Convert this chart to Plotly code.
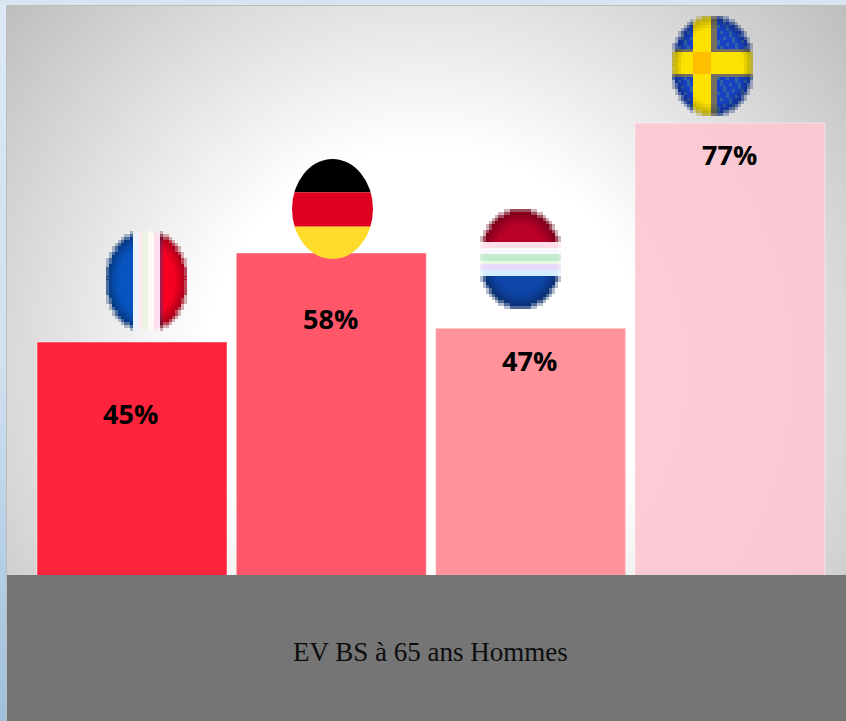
import base64
import plotly.graph_objects as go

# ---------- data ----------
categories = ["France", "Allemagne", "Pays-Bas", "Suède"]
values = [45, 58, 47, 77]
bar_colors = ["rgba(255,32,58,0.98)", "rgba(255,84,102,0.98)",
              "rgba(255,144,152,0.98)", "rgba(252,198,210,0.9)"]
caption = "EV BS à 65 ans Hommes"
label_drops = [71, 65, 32, 31]

W, H = 846, 721
Y_PER_PX = 1 / 6.844
BASE_PX = 650
BAND_TOP = 575
CAT0_PX, CAT_STEP = 132, 199.3


def svg_uri(svg):
    return "data:image/svg+xml;base64," + base64.b64encode(svg.encode()).decode()


def x_val(px):
    return (px - CAT0_PX) / CAT_STEP


def y_val(py):
    return (BASE_PX - py) * Y_PER_PX


background = f"""<svg xmlns="http://www.w3.org/2000/svg" width="{W}" height="{H}" viewBox="0 0 {W} {H}">
<defs>
<radialGradient id="g" gradientUnits="userSpaceOnUse" cx="426" cy="370" r="555">
<stop offset="0.40" stop-color="#ffffff"/><stop offset="1" stop-color="#bebebe"/>
</radialGradient>
<linearGradient id="s" x1="0" y1="0" x2="0" y2="1">
<stop offset="0" stop-color="#dce8f5"/><stop offset="0.5" stop-color="#d0e1f0"/><stop offset="1" stop-color="#9fc0dc"/>
</linearGradient>
</defs>
<rect width="{W}" height="{H}" fill="url(#s)"/>
<rect x="0" y="0" width="{W}" height="5" fill="#d7e5f3"/>
<rect x="6" y="5" width="{W}" height="{H}" fill="#bdbdbd"/>
<rect x="7" y="6" width="{W}" height="{H}" fill="url(#g)"/>
</svg>"""


def mix(c, k):
    return tuple(max(0, min(255, int(v * k))) for v in c)


def mosaic(color_at, cols=27, rows=33):
    """Low-resolution oval flag made of coarse cells with a soft rim."""
    cells = []
    for r in range(rows):
        for c in range(cols):
            u = (c + 0.5) / cols
            v = (r + 0.5) / rows
            d = ((u - 0.5) / 0.5) ** 2 + ((v - 0.5) / 0.5) ** 2
            if d > 1.12:
                continue
            rgb = color_at(u, v, d, c, r)
            op = 0.3 if d > 1.0 else (0.7 if d > 0.9 else 1)
            cells.append(f'<rect x="{c}" y="{r}" width="1.02" height="1.02" '
                         f'fill="rgb{rgb}" opacity="{op}"/>')
    return (f'<svg xmlns="http://www.w3.org/2000/svg" width="{cols*3}" height="{rows*3}" '
            f'viewBox="0 0 {cols} {rows}" shape-rendering="crispEdges">' + "".join(cells) + "</svg>")


def france(u, v, d, c, r):
    if u < 0.33:
        rgb = (8, 84, 190)
    elif u < 0.66:
        w = [(235, 245, 255), (255, 232, 240), (238, 243, 230), (255, 250, 245), (255, 222, 240)]
        rgb = w[int((u - 0.33) / 0.33 * 5) % 5]
    else:
        rgb = (170, 25, 70) if u < 0.71 else (245, 0, 35)
    return mix(rgb, 1 - 0.75 * max(0, d - 0.5) if not 0.33 <= u < 0.66 else 1)


def netherlands(u, v, d, c, r):
    if v < 0.33:
        rgb = (185, 0, 40)
    elif v < 0.67:
        w = [(255, 222, 232), (250, 248, 252), (195, 235, 205), (235, 248, 225), (232, 218, 250), (210, 238, 255)]
        rgb = w[int((v - 0.33) / 0.34 * 6) % 6]
    else:
        rgb = (15, 70, 170)
    return mix(rgb, 1 - 0.7 * max(0, d - 0.45) if not 0.33 <= v < 0.67 else 1)


def sweden(u, v, d, c, r):
    n = (c * 7 + r * 13) % 11
    horiz = 0.37 <= v < 0.59
    vert = 0.26 <= u < 0.48
    if horiz and vert:
        rgb = (255, 190, 0)
    elif horiz or vert:
        rgb = (252, 226, 0)
    elif 0.48 <= u < 0.54 or 0.34 <= v < 0.37 or 0.59 <= v < 0.62:
        rgb = (115, 110, 95)
    else:
        rgb = (25, 65, 195) if n > 2 else (45, 100, 165)
    return mix(rgb, 1 - 0.7 * max(0, d - 0.55))


germany = """<svg xmlns="http://www.w3.org/2000/svg" width="80" height="99" viewBox="0 0 80 99">
<defs><clipPath id="c"><ellipse cx="40" cy="49.5" rx="40" ry="49.5"/></clipPath></defs>
<g clip-path="url(#c)"><rect width="80" height="33" fill="#000"/>
<rect y="33" width="80" height="34" fill="#dd001f"/><rect y="67" width="80" height="32" fill="#ffdb2b"/></g></svg>"""

flag_sources = [mosaic(france), germany, mosaic(netherlands), mosaic(sweden)]
flag_boxes = [(106, 231), (292, 159), (480, 209), (672, 16)]
FLAG_W, FLAG_H = 81, 100

fig = go.Figure(go.Bar(
    x=list(range(len(categories))),
    y=values,
    width=190 / CAT_STEP,
    marker=dict(color=bar_colors, line=dict(color="rgba(255,255,255,0.3)", width=1.5)),
    customdata=categories,
    hoverinfo="skip",
))

images = [dict(source=svg_uri(background), xref="paper", yref="paper", x=0, y=1,
               sizex=1, sizey=1, xanchor="left", yanchor="top", sizing="stretch", layer="below")]
for src, (bx, by) in zip(flag_sources, flag_boxes):
    images.append(dict(source=svg_uri(src), xref="x", yref="y", x=x_val(bx), y=y_val(by),
                       sizex=FLAG_W / CAT_STEP, sizey=FLAG_H * Y_PER_PX,
                       xanchor="left", yanchor="top", sizing="stretch", layer="above"))

annotations = [dict(x=i, y=v, xshift=-0.7, yshift=-drop, text=f"{v}%", showarrow=False, yanchor="middle",
                    font=dict(family="Open Sans", size=27, color="#000000", weight="bold"))
               for i, (v, drop) in enumerate(zip(values, label_drops))]
annotations[0]["xshift"] = -1.5
annotations[1]["xshift"] = -0.5
annotations.append(dict(xref="paper", yref="paper", x=430.5 / W, y=1 - 652 / H, text=caption,
                        showarrow=False, yanchor="middle", xanchor="center",
                        font=dict(family="Liberation Serif", size=27, color="#0d0d0d")))

fig.update_layout(
    width=W, height=H, margin=dict(l=0, r=0, t=0, b=0, pad=0),
    paper_bgcolor="#ffffff", plot_bgcolor="rgba(0,0,0,0)",
    showlegend=False,
    xaxis=dict(range=[x_val(0), x_val(W)], visible=False, fixedrange=True),
    yaxis=dict(range=[y_val(H), y_val(0)], visible=False, fixedrange=True),
    images=images,
    annotations=annotations,
    shapes=[dict(type="rect", xref="paper", yref="paper", x0=7 / W, x1=1, y0=0, y1=1 - BAND_TOP / H,
                 fillcolor="#757575", line_width=0, layer="above")],
)

fig.write_html("out.html", config={"displayModeBar": False},
               post_script="document.body.style.margin='0';document.documentElement.style.overflow='hidden';")
